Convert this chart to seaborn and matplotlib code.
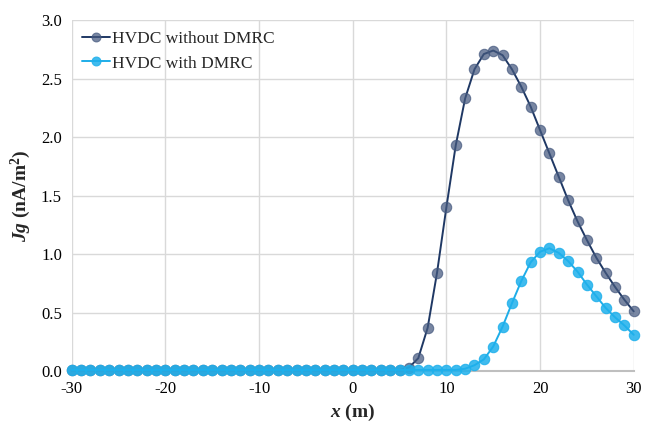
import numpy as np
import pandas as pd
import matplotlib
matplotlib.use('Agg')
import matplotlib.pyplot as plt
import seaborn as sns
from matplotlib.colors import to_rgba

# data
x_pos = list(range(-30, 31))
without_dmrc = [0.01] * 36 + [0.03, 0.11, 0.37, 0.84, 1.40, 1.93, 2.33, 2.58, 2.71, 2.74,
                              2.70, 2.58, 2.43, 2.26, 2.06, 1.86, 1.66, 1.46, 1.28, 1.12,
                              0.97, 0.84, 0.72, 0.61, 0.51]
with_dmrc = [0.01] * 42 + [0.02, 0.05, 0.10, 0.21, 0.38, 0.58, 0.77, 0.93, 1.02, 1.05,
                           1.01, 0.94, 0.85, 0.74, 0.64, 0.54, 0.46, 0.39, 0.31]
labels = ['HVDC without DMRC', 'HVDC with DMRC']

df = pd.DataFrame({'x': x_pos * 2,
                   'Jg': without_dmrc + with_dmrc,
                   'series': [labels[0]] * len(x_pos) + [labels[1]] * len(x_pos)})

sns.set_style('white')
plt.rcParams['font.family'] = ['Liberation Serif', 'DejaVu Serif']
plt.rcParams['axes.unicode_minus'] = False
plt.rcParams['mathtext.fontset'] = 'custom'
plt.rcParams['mathtext.rm'] = 'Liberation Serif'
plt.rcParams['mathtext.bf'] = 'Liberation Serif:bold'
plt.rcParams['mathtext.it'] = 'Liberation Serif:italic'
plt.rcParams['mathtext.bfit'] = 'Liberation Serif:italic:bold'

fig, ax = plt.subplots(figsize=(6.46, 4.28), dpi=100)
fig.subplots_adjust(left=0.111, right=0.981, top=0.953, bottom=0.133)

line_colors = ['#1F3864', '#1EADE8']
marker_fill = [to_rgba('#44587E', 0.72), to_rgba('#1EB0EC', 0.85)]
for i, name in enumerate(labels):
    sub = df[df['series'] == name]
    sns.lineplot(data=sub, x='x', y='Jg', ax=ax, color=line_colors[i], lw=1.4,
                 marker='o', markersize=7.5, markerfacecolor=marker_fill[i],
                 markeredgecolor=marker_fill[i], markeredgewidth=0.8, label=name,
                 zorder=3 + i, clip_on=False)

ax.set_xlim(-30, 30)
ax.set_ylim(0, 3.0)
ax.set_xticks(range(-30, 31, 10))
ax.set_yticks(np.arange(0, 3.01, 0.5))
ax.set_yticklabels([f'{v:.1f}' for v in np.arange(0, 3.01, 0.5)])
ax.grid(True, color='#D9D9D9', lw=1)
for s in ['top', 'right', 'left']:
    ax.spines[s].set_visible(False)
ax.spines['bottom'].set_color('#BFBFBF')
ax.spines['bottom'].set_linewidth(1.5)
ax.spines['bottom'].set_zorder(2)
ax.tick_params(length=0, labelsize=12, pad=7, colors='#000000')

ax.set_xlabel(r'$\mathbfit{x}\ \mathbf{(m)}$', fontsize=14, labelpad=4)
ax.set_ylabel(r'$\mathbfit{Jg}\ \mathbf{(nA/m^{2})}$', fontsize=14, labelpad=6)

ax.legend(loc='upper left', frameon=False, fontsize=12.5, handlelength=1.6,
          handletextpad=0.1, borderaxespad=0.2, labelspacing=0.5, markerscale=0.85)

plt.savefig('out.png', dpi=100)
